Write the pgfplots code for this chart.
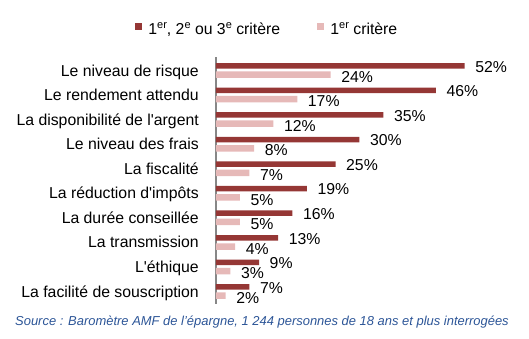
\documentclass[border=0pt]{standalone}
\usepackage{fontspec}
\setmainfont{Liberation Sans}
\usepackage{pgfplots}
\pgfplotsset{compat=1.18}
\definecolor{darkr}{HTML}{953735}
\definecolor{pinkr}{HTML}{E6B9B8}
\definecolor{axgray}{HTML}{878787}
\definecolor{srcblue}{HTML}{2C5597}
\newcommand\sups[1]{\raisebox{6pt}{\fontsize{11}{11}\selectfont #1}}
\begin{document}
\begin{tikzpicture}[font=\fontsize{15.8}{18}\selectfont]
\useasboundingbox (-216pt,-34.5pt) rectangle (313pt,303.5pt);
\begin{axis}[
  at={(0pt,0pt)}, anchor=south west,
  scale only axis, width=286.8pt, height=246.2pt,
  xmin=0, xmax=60, ymin=-0.497, ymax=9.525,
  xbar,
  axis x line=none, axis y line=left,
  y axis line style={-, draw=axgray, line width=1.5pt},
  ytick={0,...,9},
  yticklabels={La facilité de souscription\hspace{4.5pt}, L\textquotesingle éthique, La transmission, La durée conseillée, La réduction d\textquotesingle impôts, La fiscalité, Le niveau des frais, La disponibilité de l\textquotesingle argent, Le rendement attendu, Le niveau de risque},
  major tick length=0pt,
  yticklabel style={anchor=base east, inner sep=0pt, xshift=-17pt, yshift=-5.8pt, font=\fontsize{15.8}{18}\selectfont},
  clip=false,
  point meta=x,
  nodes near coords={\pgfmathprintnumber{\pgfplotspointmeta}\%},
  /pgf/number format/assume math mode=true,
  legend columns=2,
  legend style={at={(-0.2824,1.1121)}, anchor=west, draw=none, fill=none, inner sep=0pt,
    font=\fontsize{15.8}{18}\selectfont, nodes={inner sep=0pt},
    /tikz/every odd column/.append style={column sep=6.3pt},
    /tikz/every even column/.append style={column sep=37pt}},
  legend cell align=left,
  legend image code/.code={\fill[#1] (0pt,-0.2pt) rectangle (6.9pt,6.7pt);},
]
\addplot[draw=none, fill=darkr, bar width=5.5pt, bar shift=4.4pt,
  every node near coord/.style={anchor=west, inner sep=0pt, xshift=10.5pt, yshift=3.5pt, text=black}]
  coordinates {(7,0) (9,1) (13,2) (16,3) (19,4) (25,5) (30,6) (35,7) (46,8) (52,9)};
\addlegendentry{1\sups{er}, 2\sups{e} ou 3\sups{e} critère}
\addplot[draw=none, fill=pinkr, bar width=6.5pt, bar shift=-4.4pt,
  every node near coord/.style={anchor=west, inner sep=0pt, xshift=10.5pt, yshift=-6.6pt, text=black}]
  coordinates {(2,0) (3,1) (4,2) (5,3) (5,4) (7,5) (8,6) (12,7) (17,8) (24,9)};
\addlegendentry{1\sups{er} critère}
\end{axis}
\node[anchor=base west, inner sep=0pt, text=srcblue, font=\fontsize{12.95}{15}\selectfont\itshape] at (-201pt,-22.2pt) {Source : Baromètre AMF de l’épargne, 1 244 personnes de 18 ans et plus interrogées};
\end{tikzpicture}
\end{document}
